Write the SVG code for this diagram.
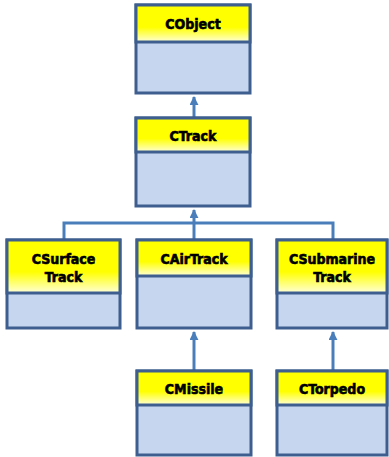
<svg xmlns="http://www.w3.org/2000/svg" width="389" height="457" viewBox="0 0 389 457">
<defs>
<linearGradient id="hdr" x1="0" y1="0" x2="0" y2="1">
<stop offset="0" stop-color="#FFFF00"/>
<stop offset="0.6" stop-color="#FFFF00"/>
<stop offset="1" stop-color="#FFFFD8"/>
</linearGradient>
<marker id="arr" viewBox="0 0 10 10" refX="9" refY="5" markerWidth="3" markerHeight="3" orient="auto" markerUnits="strokeWidth">
<path d="M0,0 L10,5 L0,10 Z" fill="#4A7EBB"/>
</marker>
<style>
.body{fill:#C6D6EE;stroke:#3D5E8E;stroke-width:3}
.head{fill:url(#hdr);stroke:#3D5E8E;stroke-width:3}
.t{font-family:"DejaVu Sans Condensed","DejaVu Sans",sans-serif;font-weight:bold;font-size:14px;fill:#000;stroke:#000;stroke-width:0.6;text-anchor:middle}
.c{fill:none;stroke:#4A7EBB;stroke-width:3}
</style>
</defs>
<g id="connectors">
<path class="c" d="M194,118 L194,97" marker-end="url(#arr)"/>
<path class="c" d="M64,240 L64,223 L333,223 L333,240"/>
<path class="c" d="M194,240 L194,210" marker-end="url(#arr)"/>
<path class="c" d="M194,371 L194,332" marker-end="url(#arr)"/>
<path class="c" d="M333,371 L333,332" marker-end="url(#arr)"/>
</g>
<g id="CObject">
<rect class="body" x="136" y="5" width="114" height="88"/>
<rect class="head" x="136" y="5" width="114" height="37"/>
<text class="t" x="193" y="29">CObject</text>
</g>
<g id="CTrack">
<rect class="body" x="136" y="118" width="114" height="88"/>
<rect class="head" x="136" y="118" width="114" height="34"/>
<text class="t" x="193" y="141">CTrack</text>
</g>
<g id="CSurfaceTrack">
<rect class="body" x="7" y="240" width="113" height="88"/>
<rect class="head" x="7" y="240" width="113" height="53"/>
<text class="t" x="63.5" y="264">CSurface</text>
<text class="t" x="63.5" y="282">Track</text>
</g>
<g id="CAirTrack">
<rect class="body" x="137" y="240" width="114" height="88"/>
<rect class="head" x="137" y="240" width="114" height="36"/>
<text class="t" x="194" y="264">CAirTrack</text>
</g>
<g id="CSubmarineTrack">
<rect class="body" x="277" y="240" width="110" height="88"/>
<rect class="head" x="277" y="240" width="110" height="53"/>
<text class="t" x="332" y="264">CSubmarine</text>
<text class="t" x="332" y="282">Track</text>
</g>
<g id="CMissile">
<rect class="body" x="137" y="371" width="114" height="84"/>
<rect class="head" x="137" y="371" width="114" height="34"/>
<text class="t" x="194" y="394">CMissile</text>
</g>
<g id="CTorpedo">
<rect class="body" x="277" y="371" width="110" height="84"/>
<rect class="head" x="277" y="371" width="110" height="34"/>
<text class="t" x="332" y="394">CTorpedo</text>
</g>
</svg>
